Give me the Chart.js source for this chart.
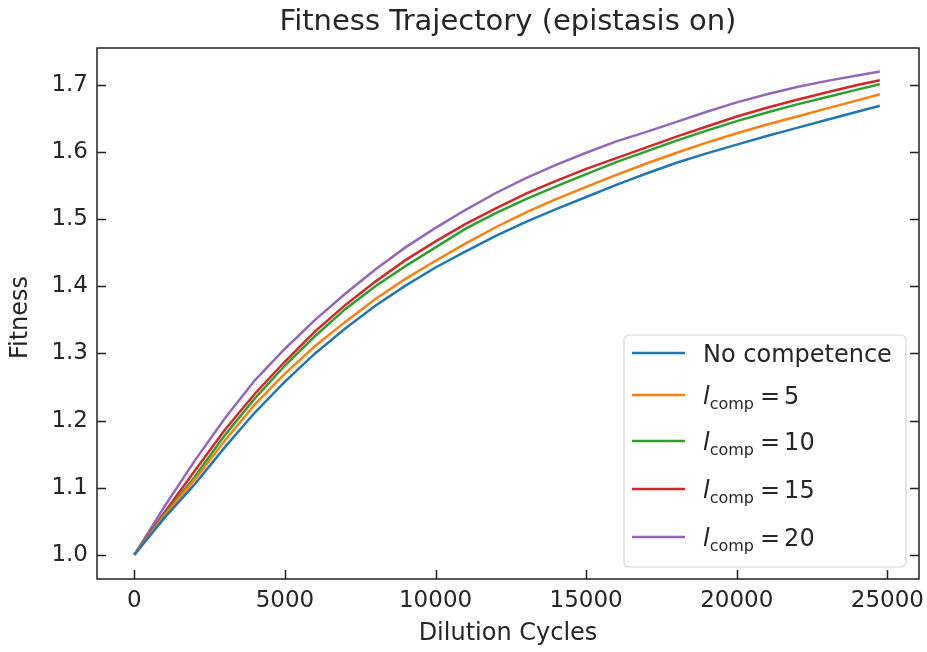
<!DOCTYPE html>
<html lang="en">
<head>
    <meta charset="UTF-8">
    <title>Fitness Trajectory (epistasis on)</title>
    <script src="https://cdn.jsdelivr.net/npm/chart.js"></script>
    <style>
        html, body { margin: 0; padding: 0; background: #fff; }
        #wrap { width: 927px; height: 652px; }
    </style>
</head>
<body>
    <div id="wrap"><canvas id="fitChart" width="927" height="652"></canvas></div>

    <script>
        // dilution cycles (x) and fitness per series
        const xCycles = [0, 1000, 2000, 3000, 4000, 5000, 6000, 7000, 8000, 9000, 10000, 11000, 12000,
            13000, 14000, 15000, 16000, 17000, 18000, 19000, 20000, 21000, 22000, 23000, 24000, 24750];
        const fitNoComp = [1.000, 1.055, 1.105, 1.160, 1.212, 1.258, 1.300, 1.337, 1.371, 1.401, 1.428, 1.452, 1.475,
            1.496, 1.515, 1.533, 1.551, 1.568, 1.584, 1.598, 1.611, 1.624, 1.636, 1.648, 1.660, 1.669];
        const fitL5 = [1.000, 1.058, 1.112, 1.170, 1.224, 1.270, 1.311, 1.347, 1.381, 1.411, 1.438, 1.464, 1.488,
            1.510, 1.530, 1.548, 1.566, 1.583, 1.599, 1.614, 1.628, 1.641, 1.653, 1.665, 1.677, 1.686];
        const fitL10 = [1.000, 1.060, 1.116, 1.178, 1.233, 1.282, 1.326, 1.366, 1.400, 1.430, 1.458, 1.486, 1.509,
            1.530, 1.549, 1.567, 1.585, 1.601, 1.617, 1.632, 1.646, 1.659, 1.671, 1.682, 1.693, 1.701];
        const fitL15 = [1.000, 1.063, 1.125, 1.186, 1.240, 1.288, 1.333, 1.372, 1.407, 1.439, 1.467, 1.493, 1.516,
            1.538, 1.557, 1.575, 1.591, 1.607, 1.623, 1.638, 1.653, 1.666, 1.678, 1.689, 1.700, 1.707];
        const fitL20 = [1.000, 1.072, 1.140, 1.203, 1.260, 1.307, 1.350, 1.389, 1.425, 1.458, 1.487, 1.514, 1.539,
            1.561, 1.581, 1.599, 1.616, 1.630, 1.645, 1.660, 1.674, 1.686, 1.697, 1.706, 1.714, 1.720];

        const seriesNames = ['No competence', '5', '10', '15', '20'];
        const seriesColors = ['#1f77b4', '#ff7f0e', '#2ca02c', '#d62728', '#9467bd'];
        const xTicks = [0, 5000, 10000, 15000, 20000, 25000];
        const yTicks = [1.0, 1.1, 1.2, 1.3, 1.4, 1.5, 1.6, 1.7];

        const FONT = 'DejaVu Sans';
        const allSeries = [fitNoComp, fitL5, fitL10, fitL15, fitL20];

        const datasets = allSeries.map((vals, i) => ({
            label: seriesNames[i],
            data: vals.map((v, j) => ({ x: xCycles[j], y: v })),
            borderColor: seriesColors[i],
            borderWidth: 2.5,
            pointRadius: 0,
            tension: 0,
            fill: false
        }));

        // title, axis labels, inward ticks, frame and the legend box
        const decorations = {
            id: 'decorations',
            afterDraw(chart) {
                const ctx = chart.ctx;
                const a = chart.chartArea;
                const xs = chart.scales.x, ys = chart.scales.y;
                ctx.save();

                ctx.strokeStyle = '#222';
                ctx.lineWidth = 1.5;
                ctx.strokeRect(a.left, a.top, a.right - a.left, a.bottom - a.top);

                const tl = 9;
                ctx.beginPath();
                yTicks.forEach(v => {
                    const py = Math.round(ys.getPixelForValue(v)) + 0.5;
                    ctx.moveTo(a.left, py); ctx.lineTo(a.left + tl, py);
                    ctx.moveTo(a.right, py); ctx.lineTo(a.right - tl, py);
                });
                xTicks.forEach(v => {
                    const px = Math.round(xs.getPixelForValue(v)) + 0.5;
                    ctx.moveTo(px, a.bottom); ctx.lineTo(px, a.bottom - tl);
                });
                ctx.stroke();

                ctx.fillStyle = '#262626';
                ctx.textAlign = 'center';
                ctx.textBaseline = 'middle';
                ctx.font = `29px "${FONT}"`;
                ctx.fillText('Fitness Trajectory (epistasis on)', (a.left + a.right) / 2, 22);

                ctx.font = `24px "${FONT}"`;
                ctx.fillText('Dilution Cycles', (a.left + a.right) / 2, 634);
                ctx.save();
                ctx.translate(21, (a.top + a.bottom) / 2 + 4);
                ctx.rotate(-Math.PI / 2);
                ctx.fillText('Fitness', 0, 0);
                ctx.restore();

                // legend
                const bx = 624, by = 335, bw = 282, bh = 232, r = 5;
                ctx.beginPath();
                ctx.moveTo(bx + r, by);
                ctx.arcTo(bx + bw, by, bx + bw, by + bh, r);
                ctx.arcTo(bx + bw, by + bh, bx, by + bh, r);
                ctx.arcTo(bx, by + bh, bx, by, r);
                ctx.arcTo(bx, by, bx + bw, by, r);
                ctx.closePath();
                ctx.fillStyle = 'rgba(255,255,255,0.8)';
                ctx.fill();
                ctx.strokeStyle = '#d6d6d6';
                ctx.lineWidth = 1.2;
                ctx.stroke();

                const rowY = [353, 395, 441, 489, 537];
                ctx.textAlign = 'left';
                ctx.textBaseline = 'alphabetic';
                seriesNames.forEach((name, i) => {
                    const y = rowY[i];
                    ctx.strokeStyle = seriesColors[i];
                    ctx.lineWidth = 2.5;
                    ctx.beginPath();
                    ctx.moveTo(632, y); ctx.lineTo(685, y);
                    ctx.stroke();
                    ctx.fillStyle = '#262626';
                    const base = y + 9;
                    if (i === 0) {
                        ctx.font = `24px "${FONT}"`;
                        ctx.fillText(name, 703, base);
                    } else {
                        let x = 703;
                        ctx.font = `italic 24px "${FONT}"`;
                        ctx.fillText('l', x, base);
                        x += ctx.measureText('l').width;
                        ctx.font = `16px "${FONT}"`;
                        ctx.fillText('comp', x, base + 5);
                        x += ctx.measureText('comp').width + 6;
                        ctx.font = `24px "${FONT}"`;
                        ctx.fillText('=', x, base);
                        x += ctx.measureText('=').width + 4;
                        ctx.fillText(name, x, base);
                    }
                });
                ctx.restore();
            }
        };

        const ctx = document.getElementById('fitChart').getContext('2d');
        const fitChart = new Chart(ctx, {
            type: 'line',
            data: { datasets: datasets },
            options: {
                responsive: false,
                animation: false,
                layout: { autoPadding: false, padding: { left: 0, top: 48, right: 8, bottom: 0 } },
                plugins: { legend: { display: false }, tooltip: { enabled: false }, title: { display: false } },
                scales: {
                    x: {
                        type: 'linear',
                        min: -1240,
                        max: 26050,
                        afterBuildTicks: s => { s.ticks = xTicks.map(v => ({ value: v })); },
                        afterFit: s => { s.height = 73; s.paddingLeft = 0; s.paddingRight = 0; },
                        grid: { display: false, drawTicks: false },
                        border: { display: false },
                        ticks: { color: '#262626', font: { family: FONT, size: 23 }, padding: 8, maxRotation: 0,
                            callback: v => String(v) }
                    },
                    y: {
                        type: 'linear',
                        min: 0.964,
                        max: 1.755,
                        afterBuildTicks: s => { s.ticks = yTicks.map(v => ({ value: v })); },
                        afterFit: s => { s.width = 97; s.paddingTop = 0; s.paddingBottom = 0; },
                        grid: { display: false, drawTicks: false },
                        border: { display: false },
                        ticks: { color: '#262626', font: { family: FONT, size: 23 }, padding: 9,
                            callback: v => v.toFixed(1) }
                    }
                }
            },
            plugins: [decorations]
        });
    </script>
</body>
</html>
